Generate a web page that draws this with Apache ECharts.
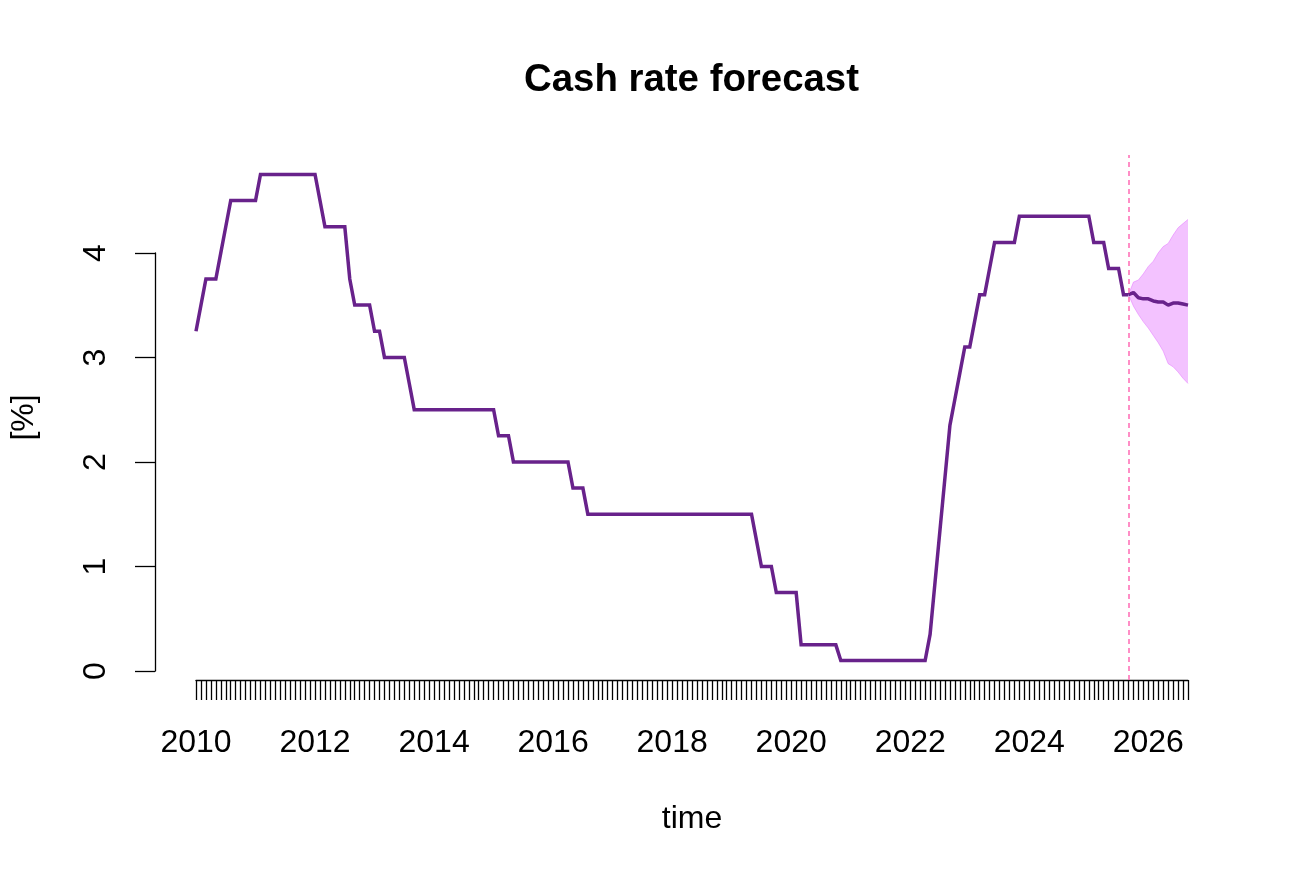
<!DOCTYPE html>
<html>
<head>
<meta charset="utf-8">
<script src="https://cdn.jsdelivr.net/npm/echarts@6/dist/echarts.min.js"></script>
<style>
html,body{margin:0;padding:0;background:#fff;}
#chart{width:1306px;height:874px;}
</style>
</head>
<body>
<div id="chart"></div>
<script>
// ---------- data ----------
const startYear = 2010;
const titleText = 'Cash rate forecast';
const xName = 'time';
const yName = '[%]';
const xLabelYears = [2010, 2012, 2014, 2016, 2018, 2020, 2022, 2024, 2026];
const yTickStep = 1;
const yTickMin = 0;
const yTickMax = 4;

// monthly cash rate, Jan 2010 .. Sep 2025
const history = [
  3.25,3.5,3.75,3.75,3.75,4.0,4.25,4.5,4.5,4.5,4.5,4.5,
  4.5,4.75,4.75,4.75,4.75,4.75,4.75,4.75,4.75,4.75,4.75,4.75,
  4.75,4.5,4.25,4.25,4.25,4.25,4.25,3.75,3.5,3.5,3.5,3.5,
  3.25,3.25,3.0,3.0,3.0,3.0,3.0,2.75,2.5,2.5,2.5,2.5,
  2.5,2.5,2.5,2.5,2.5,2.5,2.5,2.5,2.5,2.5,2.5,2.5,
  2.5,2.25,2.25,2.25,2.0,2.0,2.0,2.0,2.0,2.0,2.0,2.0,
  2.0,2.0,2.0,2.0,1.75,1.75,1.75,1.5,1.5,1.5,1.5,1.5,
  1.5,1.5,1.5,1.5,1.5,1.5,1.5,1.5,1.5,1.5,1.5,1.5,
  1.5,1.5,1.5,1.5,1.5,1.5,1.5,1.5,1.5,1.5,1.5,1.5,
  1.5,1.5,1.5,1.5,1.5,1.25,1.0,1.0,1.0,0.75,0.75,0.75,
  0.75,0.75,0.25,0.25,0.25,0.25,0.25,0.25,0.25,0.25,0.1,0.1,
  0.1,0.1,0.1,0.1,0.1,0.1,0.1,0.1,0.1,0.1,0.1,0.1,
  0.1,0.1,0.1,0.1,0.35,0.85,1.35,1.85,2.35,2.6,2.85,3.1,
  3.1,3.35,3.6,3.6,3.85,4.1,4.1,4.1,4.1,4.1,4.35,4.35,
  4.35,4.35,4.35,4.35,4.35,4.35,4.35,4.35,4.35,4.35,4.35,4.35,
  4.35,4.1,4.1,4.1,3.85,3.85,3.85,3.6,3.6
];

// forecast Sep 2025 (last observation) .. Sep 2026
const forecastMedian = [3.60,3.62,3.57,3.56,3.56,3.54,3.53,3.53,3.50,3.52,3.52,3.51,3.50];
const forecastLower  = [3.60,3.49,3.41,3.34,3.28,3.21,3.14,3.06,2.94,2.91,2.86,2.80,2.75];
const forecastUpper  = [3.60,3.72,3.74,3.80,3.87,3.92,4.00,4.06,4.09,4.17,4.24,4.28,4.32];

// ---------- build ----------
const lastObs = history.length - 1;
const nMonths = lastObs + forecastMedian.length;
const categories = [];
for (let i = 0; i < nMonths; i++) {
  const y = startYear + Math.floor(i / 12);
  const m = (i % 12) + 1;
  categories.push(y + '-' + (m < 10 ? '0' + m : m));
}
const pad = new Array(lastObs).fill(null);
const medianData = pad.concat(forecastMedian);
const lowerData = pad.concat(forecastLower);
const diffData = pad.concat(forecastUpper.map((u, i) => +(u - forecastLower[i]).toFixed(4)));

const allVals = history.concat(forecastLower, forecastUpper);
const dMin = Math.min(...allVals), dMax = Math.max(...allVals);
const ext = 0.04 * (dMax - dMin);

const font = "'Liberation Sans', Arial, Helvetica, sans-serif";
const lineColor = '#68228B';
const bandFill = 'rgba(224,102,255,0.40)';
const bandEdge = 'rgba(224,102,255,0.45)';
const axisFont = 32;

const chart = echarts.init(document.getElementById('chart'), null, {renderer: 'canvas'});
chart.setOption({
  animation: false,
  backgroundColor: '#ffffff',
  textStyle: {fontFamily: font},
  title: {
    text: titleText,
    left: 519,
    top: 56,
    textStyle: {fontFamily: font, fontSize: 38.4, fontWeight: 'bold', color: '#000'}
  },
  grid: [
    {left: 194, right: 118, top: 155, bottom: 194, containLabel: false},
    {left: 155, width: 10, top: 253, bottom: 203, containLabel: false}
  ],
  xAxis: [
    {
      type: 'category',
      gridIndex: 0,
      data: categories,
      boundaryGap: false,
      name: xName,
      nameLocation: 'middle',
      nameGap: 123,
      nameTextStyle: {fontFamily: font, fontSize: axisFont, color: '#000'},
      axisLine: {show: true, onZero: false, lineStyle: {color: '#000', width: 1.3}},
      axisTick: {show: true, interval: 0, length: 20, lineStyle: {color: '#000', width: 1.3}},
      axisLabel: {
        show: true,
        interval: (idx, val) => {
          const y = +val.slice(0, 4), m = val.slice(5);
          return m === '01' && xLabelYears.indexOf(y) >= 0;
        },
        formatter: (val) => val.slice(0, 4),
        margin: 47,
        fontFamily: font,
        fontSize: axisFont,
        color: '#000'
      },
      splitLine: {show: false}
    },
    {type: 'category', gridIndex: 1, data: ['a'], show: false}
  ],
  yAxis: [
    {
      type: 'value',
      gridIndex: 0,
      min: dMin - ext,
      max: dMax + ext,
      name: yName,
      nameLocation: 'middle',
      nameGap: 156,
      nameTextStyle: {fontFamily: font, fontSize: axisFont, color: '#000'},
      axisLine: {show: false},
      axisTick: {show: false},
      axisLabel: {show: false},
      splitLine: {show: false}
    },
    {
      type: 'value',
      gridIndex: 1,
      min: yTickMin,
      max: yTickMax,
      interval: yTickStep,
      axisLine: {show: true, onZero: false, lineStyle: {color: '#000', width: 1.3}},
      axisTick: {show: true, length: 20, lineStyle: {color: '#000', width: 1.3}},
      axisLabel: {show: true, rotate: 90, margin: 43, fontFamily: font, fontSize: axisFont, color: '#000'},
      splitLine: {show: false}
    }
  ],
  series: [
    {
      name: 'lower',
      type: 'line',
      xAxisIndex: 0, yAxisIndex: 0,
      data: lowerData,
      stack: 'band',
      symbol: 'none',
      lineStyle: {color: bandEdge, width: 1},
      silent: true,
      z: 1
    },
    {
      name: 'band',
      type: 'line',
      xAxisIndex: 0, yAxisIndex: 0,
      data: diffData,
      stack: 'band',
      symbol: 'none',
      lineStyle: {color: bandEdge, width: 1},
      areaStyle: {color: bandFill, opacity: 1},
      silent: true,
      z: 1
    },
    {
      name: 'history',
      type: 'line',
      xAxisIndex: 0, yAxisIndex: 0,
      data: history,
      symbol: 'none',
      lineStyle: {color: lineColor, width: 3.5, join: 'miter'},
      z: 3,
      markLine: {
        silent: true,
        symbol: 'none',
        label: {show: false},
        lineStyle: {color: '#FF69B4', type: [5, 4], width: 1.5},
        data: [{xAxis: categories[lastObs]}]
      }
    },
    {
      name: 'median',
      type: 'line',
      xAxisIndex: 0, yAxisIndex: 0,
      data: medianData,
      symbol: 'none',
      lineStyle: {color: lineColor, width: 3.5},
      z: 4
    }
  ]
});
</script>
</body>
</html>
